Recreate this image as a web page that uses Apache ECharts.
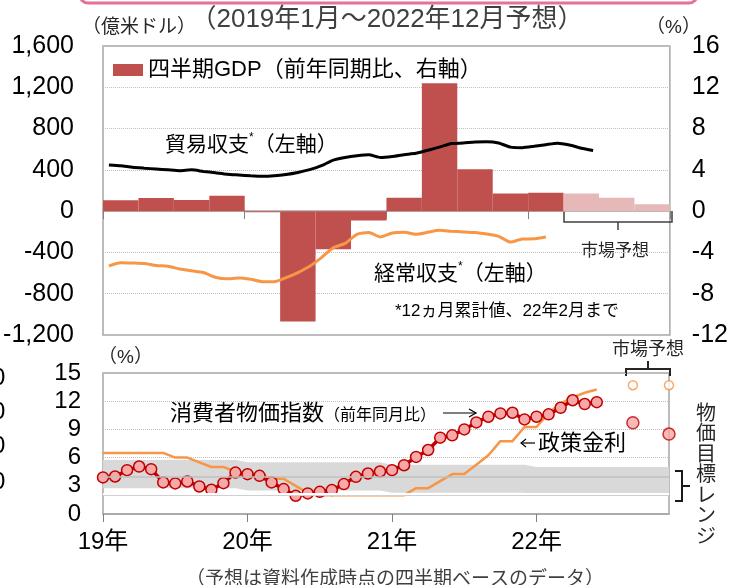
<!DOCTYPE html>
<html>
<head>
<meta charset="utf-8">
<script src="https://cdn.jsdelivr.net/npm/echarts@6/dist/echarts.min.js"></script>
<style>
  html, body { margin: 0; padding: 0; background: #fff; }
  #chart { width: 731px; height: 585px; }
</style>
</head>
<body>
<div id="chart"></div>
<script>
// 上段: 四半期GDP（前年同期比、%）
const quarters = ['19Q1', '19Q2', '19Q3', '19Q4', '20Q1', '20Q2', '20Q3', '20Q4',
  '21Q1', '21Q2', '21Q3', '21Q4', '22Q1', '22Q2', '22Q3', '22Q4'];
const gdpActual = [1.05, 1.28, 1.09, 1.48, -0.1, -10.7, -3.7, -0.9, 1.3, 12.4, 4.06, 1.7, 1.77];
const gdpForecast = [1.7, 1.3, 0.66]; // 22Q2〜22Q4 市場予想

// 月次カテゴリ 2019-01〜2022-12
const months = [];
for (let y = 2019; y <= 2022; y++) {
  for (let m = 1; m <= 12; m++) months.push(y + '-' + (m < 10 ? '0' + m : m));
}

// 貿易収支・経常収支（12ヵ月累計、億米ドル）
const tradeBalance = [448, 440, 425, 416, 408, 400, 392, 400, 385, 372, 358, 350,
  342, 337, 342, 355, 375, 402, 440, 495, 520, 537, 547, 520,
  530, 547, 560, 590, 620, 655, 660, 670, 672, 660, 620, 615,
  628, 644, 658, 640, 610, 588];
const currentAccount = [-530, -500, -503, -508, -527, -534, -560, -578, -595, -640, -656, -648,
  -660, -684, -685, -645, -595, -534, -450, -355, -312, -225, -207, -250,
  -212, -205, -225, -205, -186, -195, -201, -208, -222, -244, -300, -270,
  -268, -250];

// 下段: 政策金利・消費者物価指数（%）
const policyRate = [6.5, 6.5, 6.5, 6.5, 6.5, 6.5, 6.0, 6.0, 5.5, 5.0, 5.0, 4.5,
  4.25, 4.25, 3.75, 3.75, 3.0, 2.25, 2.0, 2.0, 2.0, 2.0, 2.0, 2.0,
  2.0, 2.0, 2.75, 2.75, 3.5, 4.25, 4.25, 5.25, 6.25, 7.75, 7.75, 9.25,
  9.25, 10.75, 11.75, 12.4, 12.9, 13.25];
const cpi = [3.89, 3.99, 4.66, 5.05, 4.77, 3.36, 3.25, 3.46, 2.93, 2.58, 3.28, 4.41,
  4.24, 4.06, 3.36, 2.65, 1.94, 2.19, 2.36, 2.54, 3.18, 3.95, 4.31, 4.52,
  4.66, 5.19, 6.07, 6.81, 8.12, 8.37, 9.0, 9.74, 10.35, 10.7, 10.77, 10.06,
  10.35, 10.6, 11.3, 12.1, 11.7, 11.9];
const forecastMonths = ['2022-09', '2022-12'];
const policyForecast = [13.7, 13.7];
const cpiForecast = [9.7, 8.5];

// 物価目標レンジ（年別 下限・上限）
const targetLow = [2.75, 2.5, 2.25, 2.0];
const targetHigh = [5.75, 5.5, 5.25, 5.0];

const FONT = "'Liberation Sans', 'Noto Sans CJK JP', sans-serif";

function fmtComma(v) {
  const s = String(Math.abs(v)).replace(/\B(?=(\d{3})+(?!\d))/g, ',');
  return (v < 0 ? '-' : '') + s;
}

const chartView = echarts.init(document.getElementById('chart'));

const bandLow = months.map((m, i) => targetLow[Math.floor(i / 12)]);
const bandWidth = months.map((m, i) => targetHigh[Math.floor(i / 12)] - targetLow[Math.floor(i / 12)]);

const axisText = { color: '#000', fontFamily: FONT };
const gridLine = { show: true, lineStyle: { color: '#BFBFBF', type: 'dotted', width: 1 } };

const option = {
  animation: false,
  textStyle: { fontFamily: FONT },
  grid: [
    { left: 103, top: 46, width: 569, height: 289, show: true, borderColor: '#A6A6A6', borderWidth: 1.5 },
    { left: 103, top: 373, width: 566, height: 141, show: true, borderColor: '#A6A6A6', borderWidth: 1.5 },
  ],
  legend: {
    left: 108,
    top: 54,
    selectedMode: false,
    itemWidth: 30,
    itemHeight: 12,
    itemGap: 4,
    icon: 'rect',
    textStyle: { fontSize: 22, color: '#000', fontFamily: FONT },
    data: ['四半期GDP（前年同期比、右軸）'],
  },
  xAxis: [
    {
      gridIndex: 0,
      type: 'category',
      data: quarters,
      boundaryGap: true,
      axisLine: { onZero: true, lineStyle: { color: '#A6A6A6', width: 1.5 } },
      axisTick: { show: true, interval: (i) => i % 4 === 0, length: 8, lineStyle: { color: '#808080' } },
      axisLabel: { show: false },
      splitLine: { show: false },
    },
    {
      gridIndex: 0,
      type: 'category',
      data: months,
      boundaryGap: true,
      show: false,
    },
    {
      gridIndex: 1,
      type: 'category',
      data: months,
      boundaryGap: false,
      axisLine: { lineStyle: { color: '#A6A6A6', width: 1.5 } },
      axisTick: { show: true, interval: (i) => i % 12 === 0, length: 8, lineStyle: { color: '#808080' } },
      axisLabel: {
        ...axisText,
        fontSize: 24,
        margin: 16,
        interval: (i) => i % 12 === 0,
        formatter: (v) => v.slice(2, 4) + '年',
      },
      splitLine: { show: false },
    },
  ],
  yAxis: [
    {
      gridIndex: 0,
      type: 'value',
      position: 'left',
      min: -1200,
      max: 1600,
      interval: 400,
      axisLine: { show: false },
      axisTick: { show: false },
      axisLabel: { ...axisText, fontSize: 25, margin: 29, formatter: fmtComma },
      splitLine: gridLine,
    },
    {
      gridIndex: 0,
      type: 'value',
      position: 'right',
      min: -12,
      max: 16,
      interval: 4,
      axisLine: { show: false },
      axisTick: { show: false },
      axisLabel: { ...axisText, fontSize: 25, margin: 22 },
      splitLine: { show: false },
    },
    {
      gridIndex: 1,
      type: 'value',
      min: 0,
      max: 15,
      interval: 3,
      axisLine: { show: false },
      axisTick: { show: false },
      axisLabel: { ...axisText, fontSize: 24, margin: 22 },
      splitLine: gridLine,
    },
  ],
  series: [
    {
      name: '四半期GDP（前年同期比、右軸）',
      type: 'bar',
      xAxisIndex: 0,
      yAxisIndex: 1,
      barWidth: '100%',
      barGap: '-100%',
      itemStyle: { color: '#C0504D' },
      data: gdpActual.concat(gdpForecast.map(() => null)),
      z: 2,
    },
    {
      name: '市場予想GDP',
      type: 'bar',
      xAxisIndex: 0,
      yAxisIndex: 1,
      barWidth: '100%',
      barGap: '-100%',
      itemStyle: { color: '#E6B9B8' },
      data: gdpActual.map(() => null).concat(gdpForecast),
      z: 2,
    },
    {
      name: '貿易収支',
      type: 'line',
      xAxisIndex: 1,
      yAxisIndex: 0,
      showSymbol: false,
      smooth: 0.2,
      lineStyle: { color: '#000', width: 3 },
      data: tradeBalance,
      z: 3,
    },
    {
      name: '経常収支',
      type: 'line',
      xAxisIndex: 1,
      yAxisIndex: 0,
      showSymbol: false,
      smooth: 0.2,
      lineStyle: { color: '#F79646', width: 3 },
      data: currentAccount,
      z: 3,
    },
    {
      name: '目標下限',
      type: 'line',
      xAxisIndex: 2,
      yAxisIndex: 2,
      stack: 'band',
      symbol: 'none',
      lineStyle: { width: 0 },
      data: bandLow,
      z: 1,
    },
    {
      name: '物価目標レンジ',
      type: 'line',
      xAxisIndex: 2,
      yAxisIndex: 2,
      stack: 'band',
      symbol: 'none',
      lineStyle: { width: 0 },
      areaStyle: { color: '#D9D9D9', opacity: 1 },
      data: bandWidth,
      markLine: {
        silent: true,
        symbol: 'none',
        label: { show: false },
        data: [
          { yAxis: 4, lineStyle: { color: '#BFBFBF', width: 1.5, type: 'solid' } },
          { yAxis: 1.95, lineStyle: { color: '#D0D0D0', width: 1, type: 'solid' } },
          { yAxis: 2.15, lineStyle: { color: '#FFFFFF', width: 2, type: 'solid' } },
        ],
      },
      z: 1,
    },
    {
      name: '政策金利',
      type: 'line',
      xAxisIndex: 2,
      yAxisIndex: 2,
      showSymbol: false,
      lineStyle: { color: '#F79646', width: 2.5 },
      data: policyRate,
      z: 3,
    },
    {
      name: '消費者物価指数',
      type: 'line',
      xAxisIndex: 2,
      yAxisIndex: 2,
      symbol: 'circle',
      symbolSize: 11,
      showAllSymbol: true,
      lineStyle: { color: '#C00000', width: 3.5 },
      itemStyle: { color: '#F7A8A8', borderColor: '#C00000', borderWidth: 1.5 },
      data: cpi,
      z: 4,
    },
    {
      name: '政策金利予想',
      type: 'scatter',
      xAxisIndex: 2,
      yAxisIndex: 2,
      symbolSize: 9,
      itemStyle: { color: '#fff', borderColor: '#F79646', borderWidth: 1.5 },
      data: forecastMonths.map((m, i) => [m, policyForecast[i]]),
      z: 4,
    },
    {
      name: '物価予想',
      type: 'scatter',
      xAxisIndex: 2,
      yAxisIndex: 2,
      symbolSize: 12,
      itemStyle: { color: '#F7A8A8', borderColor: '#C00000', borderWidth: 1.5 },
      data: forecastMonths.map((m, i) => [m, cpiForecast[i]]),
      z: 4,
    },
  ],
  graphic: [
    // 上部のピンク枠
    { type: 'rect', shape: { x: 80, y: -40, width: 617, height: 43, r: 8 }, style: { fill: 'none', stroke: '#E5709B', lineWidth: 3 } },
    { type: 'text', style: { text: '（2019年1月～2022年12月予想）', x: 387, y: 20, textAlign: 'center', textVerticalAlign: 'middle', fontSize: 26, fontFamily: FONT, fill: '#404040' } },
    { type: 'text', style: { text: '（億米ドル）', x: 82, y: 28, textVerticalAlign: 'middle', fontSize: 19, fontFamily: FONT, fill: '#262626' } },
    { type: 'text', style: { text: '（%）', x: 646, y: 28, textVerticalAlign: 'middle', fontSize: 19, fontFamily: FONT, fill: '#262626' } },
    {
      type: 'text',
      style: {
        text: '{a|貿易収支}{s|*}{a|（左軸）}', x: 165, y: 145, textVerticalAlign: 'middle', fontFamily: FONT, fill: '#000',
        rich: { a: { fontSize: 21, fontFamily: FONT, lineHeight: 26 }, s: { fontSize: 12, fontFamily: FONT, verticalAlign: 'top', lineHeight: 26 } },
      },
    },
    {
      type: 'text',
      style: {
        text: '{a|経常収支}{s|*}{a|（左軸）}', x: 374, y: 274, textVerticalAlign: 'middle', fontFamily: FONT, fill: '#000',
        rich: { a: { fontSize: 21, fontFamily: FONT, lineHeight: 26 }, s: { fontSize: 12, fontFamily: FONT, verticalAlign: 'top', lineHeight: 26 } },
      },
    },
    { type: 'text', style: { text: '*12ヵ月累計値、22年2月まで', x: 395, y: 311, textVerticalAlign: 'middle', fontSize: 17, fontFamily: FONT, fill: '#000' } },
    // 上段 市場予想ブラケット
    { type: 'polyline', shape: { points: [[564, 211], [564, 222], [672, 222], [672, 211]] }, style: { stroke: '#404040', lineWidth: 1.5, fill: 'none' } },
    { type: 'line', shape: { x1: 618, y1: 222, x2: 618, y2: 230 }, style: { stroke: '#404040', lineWidth: 1.5 } },
    { type: 'text', style: { text: '市場予想', x: 615, y: 251, textAlign: 'center', textVerticalAlign: 'middle', fontSize: 17, fontFamily: FONT, fill: '#262626', backgroundColor: '#fff', padding: [0, 6] } },
    // 下段
    { type: 'text', style: { text: '（%）', x: 98, y: 358, textVerticalAlign: 'middle', fontSize: 19, fontFamily: FONT, fill: '#262626' } },
    { type: 'text', style: { text: '市場予想', x: 648, y: 350, textAlign: 'center', textVerticalAlign: 'middle', fontSize: 18, fontFamily: FONT, fill: '#262626' } },
    { type: 'polyline', shape: { points: [[626, 376], [626, 369], [670, 369], [670, 376]] }, style: { stroke: '#262626', lineWidth: 2, fill: 'none' } },
    { type: 'line', shape: { x1: 648, y1: 369, x2: 648, y2: 361 }, style: { stroke: '#262626', lineWidth: 2 } },
    {
      type: 'text',
      style: {
        text: '{a|消費者物価指数}{b|（前年同月比）}', x: 170, y: 414, textVerticalAlign: 'middle', fontFamily: FONT, fill: '#000',
        rich: { a: { fontSize: 22, fontFamily: FONT, lineHeight: 26 }, b: { fontSize: 16, fontFamily: FONT, lineHeight: 26, padding: [3, 0, 0, 0] } },
      },
    },
    { type: 'line', shape: { x1: 443, y1: 413, x2: 476, y2: 413 }, style: { stroke: '#000', lineWidth: 1.2 } },
    { type: 'polyline', shape: { points: [[469, 409], [476, 413], [469, 417]] }, style: { stroke: '#000', lineWidth: 1.2, fill: 'none' } },
    { type: 'line', shape: { x1: 521, y1: 443, x2: 535, y2: 443 }, style: { stroke: '#000', lineWidth: 1.2 } },
    { type: 'polyline', shape: { points: [[526, 439], [521, 443], [526, 447]] }, style: { stroke: '#000', lineWidth: 1.2, fill: 'none' } },
    { type: 'text', style: { text: '政策金利', x: 538, y: 444, textVerticalAlign: 'middle', fontSize: 22, fontFamily: FONT, fill: '#000' } },
    // 物価目標レンジ
    { type: 'polyline', shape: { points: [[675, 471], [682, 471], [682, 501], [675, 501]] }, style: { stroke: '#1A1A1A', lineWidth: 2, fill: 'none' } },
    { type: 'line', shape: { x1: 682, y1: 486, x2: 690, y2: 486 }, style: { stroke: '#1A1A1A', lineWidth: 2 } },
    { type: 'text', style: { text: '物\n価\n目\n標\nレ\nン\nジ', x: 706, y: 404, textAlign: 'center', fontSize: 20, lineHeight: 20.5, fontFamily: FONT, fill: '#262626' } },
    // 左端に切れた目盛
    { type: 'text', style: { text: '0', x: -8, y: 378, textVerticalAlign: 'middle', fontSize: 24, fontFamily: FONT, fill: '#000' } },
    { type: 'text', style: { text: '0', x: -8, y: 412, textVerticalAlign: 'middle', fontSize: 24, fontFamily: FONT, fill: '#000' } },
    { type: 'text', style: { text: '0', x: -8, y: 446, textVerticalAlign: 'middle', fontSize: 24, fontFamily: FONT, fill: '#000' } },
    { type: 'text', style: { text: '0', x: -8, y: 482, textVerticalAlign: 'middle', fontSize: 24, fontFamily: FONT, fill: '#000' } },
    { type: 'text', style: { text: '（予想は資料作成時点の四半期ベースのデータ）', x: 395, y: 580, textAlign: 'center', textVerticalAlign: 'middle', fontSize: 19, fontFamily: FONT, fill: '#404040' } },
  ],
};

chartView.setOption(option, true);
</script>
</body>
</html>
